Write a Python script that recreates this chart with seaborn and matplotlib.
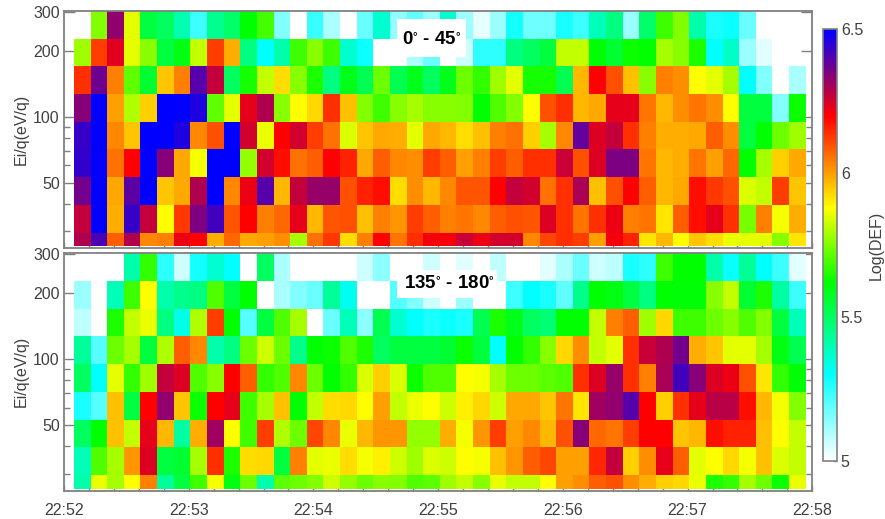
import numpy as np
import pandas as pd
import matplotlib
matplotlib.use('Agg')
import matplotlib.pyplot as plt
import seaborn as sns
from matplotlib.colors import LinearSegmentedColormap
from matplotlib.patches import Rectangle

n = np.nan

# Log(DEF) per energy channel, highest energy first, one row per channel
# pitch angle 0 - 45
top_e8 = [n,5.75,6.33,5.85,5.54,5.5,5.40,5.23,5.44,5.49,5.62,5.69,5.15,n,5.24,5.10,n,5.18,5.36,5.13,5.19,5.12,5.36,5.12,5.03,5.12,5.28,5.17,5.17,5.27,5.23,5.39,5.46,5.12,5.49,5.685,5.75,5.41,5.27,5.29,5.18,n,n,n]
top_e7 = [5.78,6.12,6.235,5.85,5.76,5.54,5.6,5.815,6.12,5.98,5.46,5.30,5.41,5.685,5.76,5.685,5.36,5.29,n,n,5.10,5.18,n,5.06,5.25,5.25,5.46,5.5,5.54,5.82,5.815,5.62,5.56,5.63,5.62,5.79,5.76,5.65,5.30,5.37,5.12,5.04,n,n]
top_e6 = [6.14,6.37,6.04,5.72,5.56,5.95,6.04,6.4,6.27,5.5,5.64,5.815,5.92,5.76,5.65,5.46,5.59,5.52,5.73,5.52,5.59,5.5,5.59,5.73,5.67,5.78,5.85,5.64,5.64,5.52,5.97,6.2,6.1,5.96,5.76,6.04,6.02,5.88,5.85,5.79,5.3,5.15,n,5.1]
top_e5 = [6.34,6.5,6.0,5.8,5.94,6.5,6.5,6.46,5.72,5.85,6.23,6.29,5.76,5.88,5.93,6.14,5.96,5.75,5.685,5.76,5.79,5.76,5.76,5.75,5.62,5.7,5.75,5.88,6.1,6.14,5.97,5.99,6.23,6.23,6.05,5.97,6.02,6.05,6.02,5.88,5.54,5.54,5.15,5.63]
top_e4 = [6.43,6.5,6.03,5.95,6.5,6.5,6.46,6.03,6.1,6.5,6.25,5.86,6.2,6.25,6.12,6.06,5.84,5.95,5.99,5.98,5.85,5.99,5.97,5.92,5.96,6.04,6.06,5.94,5.79,6.03,6.38,6.24,6.27,6.14,6.04,5.98,5.98,5.99,6.08,6.02,5.54,5.62,5.73,5.78]
top_e3 = [6.44,6.5,6.06,6.2,6.5,6.34,5.99,5.87,6.5,6.5,5.77,6.25,6.18,6.06,6.08,6.2,6.16,5.99,6.08,6.03,6.02,6.12,6.08,6.0,6.04,6.12,6.08,6.14,6.14,6.26,6.1,6.24,6.35,6.35,6.05,5.97,5.98,6.05,6.0,6.07,5.62,5.79,5.94,5.99]
top_e2 = [6.36,6.5,5.99,6.39,6.5,5.95,5.99,6.29,6.5,6.03,6.22,6.4,5.97,6.27,6.32,6.32,6.1,6.16,6.18,5.92,6.02,5.97,6.03,6.09,6.09,6.2,6.27,6.25,6.06,6.14,6.3,5.96,6.1,6.2,6.08,5.97,5.99,6.18,6.13,6.1,5.84,5.815,6.12,5.95]
top_e1 = [6.27,6.5,5.98,6.43,6.27,5.88,6.13,6.35,6.42,6.09,6.2,6.04,6.07,6.23,5.97,6.09,6.1,5.96,6.04,6.01,6.12,6.08,6.04,6.05,6.03,6.08,6.1,6.09,6.24,6.14,6.05,6.14,6.22,6.04,6.05,5.91,6.08,6.18,6.23,6.14,5.74,6.04,5.87,5.98]
top_e0 = [6.29,6.41,6.08,6.29,6.03,6.04,6.22,6.2,5.98,6.07,5.99,6.0,6.02,5.79,6.06,6.13,5.92,6.04,6.2,6.05,6.14,6.21,6.21,6.26,6.22,6.25,6.25,6.03,6.11,6.14,6.12,6.0,6.21,6.16,5.91,5.97,5.88,5.95,5.92,5.86,5.85,5.85,5.76,5.91]

# pitch angle 135 - 180
bot_e8 = [n,n,n,5.41,5.67,5.25,5.06,5.28,5.36,5.3,n,5.5,5.1,n,n,n,n,5.06,5.14,n,n,5.06,n,5.04,n,5.08,n,n,5.04,5.1,5.18,5.06,5.08,5.27,5.25,5.685,5.62,5.62,5.41,5.29,5.43,5.3,5.23,5.04]
bot_e7 = [5.12,n,5.39,5.685,5.88,5.41,5.45,5.46,5.7,5.54,5.62,n,5.1,5.15,5.18,5.43,5.32,n,n,5.2,5.15,5.06,n,5.12,n,n,5.23,5.3,5.27,5.19,5.45,5.62,5.6,5.54,5.46,5.62,5.61,5.61,5.76,5.815,5.56,5.65,5.42,5.23]
bot_e6 = [5.08,n,5.65,5.82,5.86,5.46,5.33,5.8,6.12,5.62,5.2,5.54,5.7,5.79,n,5.18,5.39,5.14,5.52,5.36,5.3,5.27,5.29,5.27,5.52,5.65,5.59,5.5,5.48,5.62,5.62,5.815,6.04,6.08,5.78,5.93,5.685,5.685,5.73,5.76,5.7,5.75,5.54,5.39]
bot_e5 = [5.43,5.2,5.73,5.79,5.54,5.8,6.08,6.03,5.41,5.46,5.73,5.83,5.73,5.45,5.62,5.63,5.7,5.65,5.5,5.54,5.54,5.54,5.56,5.63,5.54,5.3,5.62,5.67,5.76,5.93,6.02,5.82,5.85,6.14,6.26,6.29,6.36,5.98,5.95,5.85,5.85,5.79,5.6,5.52]
bot_e4 = [5.5,5.3,5.85,5.67,5.78,6.27,6.24,5.7,5.76,6.2,6.08,5.67,5.7,6.03,5.73,5.62,5.67,5.84,5.94,5.84,5.63,5.7,5.7,5.88,5.87,5.79,5.73,5.73,5.71,5.7,6.14,6.24,6.32,6.14,6.04,6.3,6.42,6.34,6.24,6.22,6.1,5.91,5.67,5.61]
bot_e3 = [5.27,5.2,5.96,5.54,6.2,6.33,5.95,5.63,6.2,6.23,5.685,5.79,5.96,5.62,5.82,5.92,5.93,5.88,6.0,5.815,5.86,5.88,5.83,5.9,5.93,5.83,5.99,5.99,5.95,6.05,5.91,6.31,6.33,6.4,6.2,5.94,6.14,6.23,6.28,6.28,6.18,5.97,5.87,5.75]
bot_e2 = [5.5,5.62,5.96,5.82,6.23,5.97,5.42,5.98,6.31,5.88,5.685,6.12,5.8,5.73,6.11,6.03,5.86,5.97,6.01,6.01,5.77,5.77,5.98,5.87,6.01,6.12,6.0,6.03,5.97,6.1,6.34,6.07,6.05,6.12,6.2,6.2,5.95,5.97,6.18,6.16,6.16,5.96,5.88,5.815]
bot_e1 = [5.39,5.7,5.79,6.01,6.24,5.54,5.56,5.79,6.14,5.65,5.92,5.93,5.54,6.04,5.85,5.86,5.92,5.87,5.9,5.83,5.78,5.84,5.83,5.88,5.87,5.96,6.01,6.08,6.11,6.0,6.0,6.15,6.27,5.94,6.02,6.23,6.08,5.85,5.88,5.93,5.87,5.96,5.84,5.815]
bot_e0 = [5.41,5.86,5.79,5.88,6.04,5.43,5.54,5.685,5.87,5.6,5.73,5.41,5.71,5.73,5.75,5.83,5.77,5.73,5.76,5.75,5.7,5.71,5.78,5.82,5.76,5.86,5.815,5.815,5.88,6.0,6.02,6.08,6.1,6.02,5.98,5.94,5.93,5.86,5.65,5.67,5.79,5.73,5.63,5.86]

time_labels = ['22:52', '22:53', '22:54', '22:55', '22:56', '22:57', '22:58']
major_energy = [50, 100, 200, 300]
minor_energy = [30, 40, 60, 70, 80, 90]

sns.set_theme(style="white")
plt.rcParams['font.family'] = ['Liberation Sans', 'DejaVu Sans']
plt.rcParams['mathtext.default'] = 'regular'

W, H = 885, 519
GRAY = '#808080'
TXT = '#404040'

spectro = LinearSegmentedColormap.from_list('spectro', [
    (0.0, '#ffffff'), (0.2, '#00ffff'), (0.413, '#00ff00'),
    (0.587, '#ffff00'), (0.8, '#ff0000'), (1.0, '#0000ff')])


def px_axes(x0, y0, x1, y1):
    return fig.add_axes([x0 / W, 1 - y1 / H, (x1 - x0) / W, (y1 - y0) / H])


def energy_pos(e):
    # channels are evenly spaced in log energy, 2.383 per octave
    return 7.95 - 2.383 * np.log2(np.asarray(e, dtype=float) / 30)


def time_pos(seconds):
    # each column is 8 s wide, first one starts 4.8 s after 22:52
    return (np.asarray(seconds, dtype=float) - 4.8) / 8


fig = plt.figure(figsize=(W / 100, H / 100), dpi=100)
ax1 = px_axes(64, 11, 812.3, 248)
ax2 = px_axes(64, 253, 812.3, 490.7)
cax = px_axes(822.7, 29.3, 836.7, 460.7)

df1 = pd.DataFrame([top_e8, top_e7, top_e6, top_e5, top_e4, top_e3, top_e2, top_e1, top_e0])
df2 = pd.DataFrame([bot_e8, bot_e7, bot_e6, bot_e5, bot_e4, bot_e3, bot_e2, bot_e1, bot_e0])

sns.heatmap(df1, ax=ax1, cmap=spectro, vmin=5, vmax=6.5, xticklabels=False, yticklabels=False,
            cbar_ax=cax, cbar_kws={'ticks': [5, 5.5, 6, 6.5]})
sns.heatmap(df2, ax=ax2, cmap=spectro, vmin=5, vmax=6.5, xticklabels=False, yticklabels=False, cbar=False)

for ax in (ax1, ax2):
    ax.set_xlim(time_pos(0), time_pos(360))
    ax.set_ylim(8.556, 0)
    # lowest channel is cut short
    clip = Rectangle((-1, 0), 50, 8.48, transform=ax.transData)
    ax.collections[0].set_clip_path(clip)
    ax.collections[0].set_zorder(2)
    ax.set_axisbelow(True)
    for sp in ax.spines.values():
        sp.set_visible(True)
        sp.set_color(GRAY)
        sp.set_linewidth(1.3)
    ax.set_xticks(time_pos(np.arange(0, 361, 60)))
    ax.set_xticks(time_pos(np.arange(0, 361, 12)), minor=True)
    ax.set_yticks(energy_pos(major_energy))
    ax.set_yticks(energy_pos(minor_energy), minor=True)
    ax.set_yticklabels([str(e) for e in major_energy])
    ax.tick_params(axis='x', which='both', direction='in', length=4, width=1, color=GRAY,
                   bottom=True, top=False, labelsize=11.5, labelcolor=TXT, pad=9)
    ax.tick_params(axis='y', which='major', direction='in', length=8, width=1, color=GRAY,
                   left=True, right=True, labelsize=11.5, labelcolor=TXT, pad=3)
    ax.tick_params(axis='y', which='minor', direction='in', length=4, width=1, color=GRAY,
                   left=True, right=True)
    ax.set_ylabel('Ei/q(eV/q)', fontsize=11.5, color=TXT, labelpad=3)
    ax.set_xlabel('')

ax1.set_xticklabels([])
ax2.set_xticklabels(time_labels)

# white label boxes inside the panels
for (x0, y0, x1, y1), (tx, ty), label in [
    ((397, 19, 466, 57), (432, 40), r'0$^{\circ}$ - 45$^{\circ}$'),
    ((397, 270, 497, 298), (449, 283), r'135$^{\circ}$ - 180$^{\circ}$'),
]:
    fig.add_artist(Rectangle((x0 / W, 1 - y1 / H), (x1 - x0) / W, (y1 - y0) / H,
                             transform=fig.transFigure, facecolor='white', edgecolor='none'))
    fig.text(tx / W, 1 - ty / H, label, fontsize=13.5, fontweight='bold', color='black',
             ha='center', va='center')

cbar = ax1.collections[0].colorbar
cbar.outline.set_edgecolor(GRAY)
cbar.outline.set_linewidth(1.2)
cax.tick_params(axis='y', direction='in', length=3, width=1, color=GRAY,
                labelsize=11.5, labelcolor=TXT, pad=3, right=True)
cax.set_yticklabels(['5', '5.5', '6', '6.5'])
cax.set_ylabel('Log(DEF)', fontsize=11.5, color=TXT, labelpad=4)

fig.savefig('out.png', dpi=100, facecolor='white')
